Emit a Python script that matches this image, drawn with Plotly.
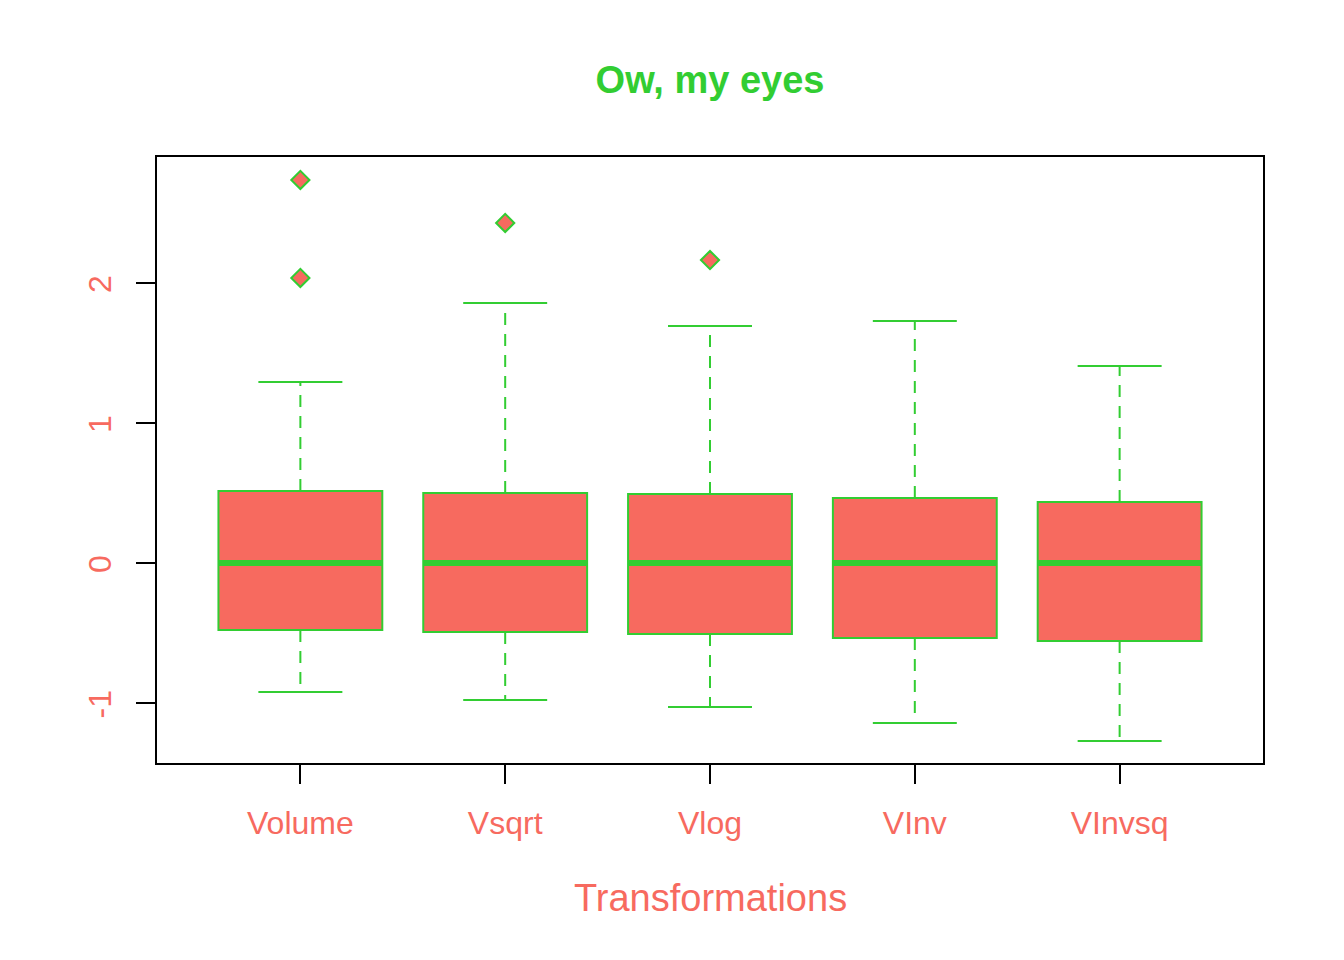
import plotly.graph_objects as go

categories = ["Volume", "Vsqrt", "Vlog", "VInv", "VInvsq"]
lower_whisker = [-0.921, -0.979, -1.029, -1.143, -1.271]
q1 = [-0.479, -0.493, -0.507, -0.536, -0.557]
median = [0.0, 0.0, 0.0, 0.0, 0.0]
q3 = [0.514, 0.500, 0.493, 0.464, 0.436]
upper_whisker = [1.293, 1.857, 1.693, 1.729, 1.407]
outlier_cat = [1, 1, 2, 3]
outlier_val = [2.736, 2.036, 2.429, 2.164]
y_ticks = [-1, 0, 1, 2]

SALMON = "#F76A5F"
GREEN = "#32CD32"
FONT = "Liberation Sans, Arial, Helvetica, sans-serif"

pos = list(range(1, len(categories) + 1))
box_w = 0.8
cap_w = 0.41

fig = go.Figure()

# whiskers (dashed)
for i, p in enumerate(pos):
    fig.add_trace(go.Scatter(x=[p, p], y=[q3[i], upper_whisker[i]], mode="lines",
                             line=dict(color=GREEN, width=2, dash="12px,9px"),
                             hoverinfo="skip", showlegend=False))
    fig.add_trace(go.Scatter(x=[p, p], y=[q1[i], lower_whisker[i]], mode="lines",
                             line=dict(color=GREEN, width=2, dash="12px,9px"),
                             hoverinfo="skip", showlegend=False))
    # caps
    for w in (upper_whisker[i], lower_whisker[i]):
        fig.add_trace(go.Scatter(x=[p - cap_w / 2, p + cap_w / 2], y=[w, w], mode="lines",
                                 line=dict(color=GREEN, width=2),
                                 hoverinfo="skip", showlegend=False))

# boxes
fig.add_trace(go.Bar(x=pos, y=[q3[i] - q1[i] for i in range(len(pos))], base=q1,
                     width=box_w, marker=dict(color=SALMON, line=dict(color=GREEN, width=2)),
                     showlegend=False))

# medians
for i, p in enumerate(pos):
    fig.add_trace(go.Scatter(x=[p - box_w / 2, p + box_w / 2], y=[median[i], median[i]],
                             mode="lines", line=dict(color=GREEN, width=6),
                             hoverinfo="skip", showlegend=False))

# outliers
fig.add_trace(go.Scatter(x=outlier_cat, y=outlier_val, mode="markers",
                         marker=dict(symbol="diamond", size=14, color=SALMON,
                                     line=dict(color=GREEN, width=2)),
                         showlegend=False))

fig.update_layout(
    width=1344, height=960,
    margin=dict(l=149, r=89, t=149, b=205),
    paper_bgcolor="white", plot_bgcolor="white",
    font=dict(family=FONT, color=SALMON, size=32),
    title=dict(text="<b>Ow, my eyes</b>", x=0.5, xref="paper", xanchor="center",
               y=1 - 72 / 960, yref="container", yanchor="middle",
               font=dict(family=FONT, size=38, color=GREEN)),
    barmode="overlay",
    xaxis=dict(range=[0.3, 5.7], tickvals=pos, ticktext=categories,
               showline=True, linecolor="black", linewidth=2, mirror=True,
               ticks="outside", ticklen=19, tickwidth=2, tickcolor="black",
               showgrid=False, zeroline=False, ticklabelstandoff=12,
               tickfont=dict(family=FONT, size=32, color=SALMON)),
    yaxis=dict(range=[-1.4286, 2.9], tickvals=y_ticks, ticktext=[str(v) for v in y_ticks],
               showline=True, linecolor="black", linewidth=2, mirror=True,
               ticks="outside", ticklen=19, tickwidth=2, tickcolor="black",
               showgrid=False, zeroline=False, tickangle=-90, ticklabelstandoff=12,
               ticklabelshift=6,
               tickfont=dict(family=FONT, size=32, color=SALMON)),
    annotations=[dict(text="Transformations", xref="paper", yref="paper", x=0.5, y=0,
                      xanchor="center", yanchor="middle", yshift=-135, showarrow=False,
                      font=dict(family=FONT, size=38, color=SALMON))],
)

fig.write_html("out.html")
